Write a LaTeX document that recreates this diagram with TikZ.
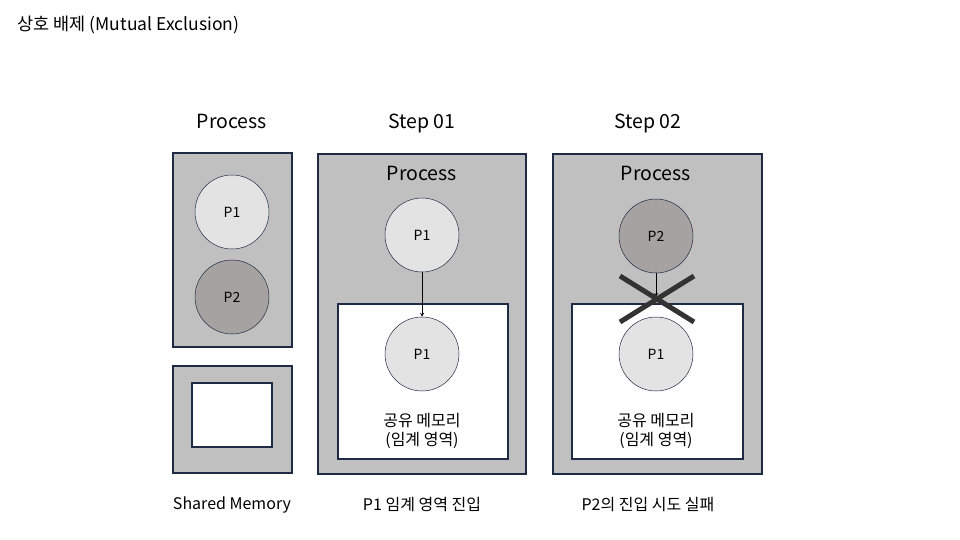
\documentclass[tikz,border=0pt]{standalone}
\usepackage{fontspec}
\setmainfont{Noto Sans CJK KR}
\usetikzlibrary{calc}
\definecolor{panelgray}{HTML}{C0C0C0}
\definecolor{edgeblue}{HTML}{1F2A44}
\definecolor{lightproc}{HTML}{E3E3E3}
\definecolor{darkproc}{HTML}{A6A2A1}
\definecolor{crossgray}{HTML}{333333}
\tikzset{
    panel/.style={draw=edgeblue, fill=panelgray, line width=1.2pt},
    memory/.style={draw=edgeblue, fill=white, line width=1.2pt},
    proc/.style={circle, draw=edgeblue, line width=0.5pt, minimum size=74pt, inner sep=0pt, font=\fontsize{14}{16}\selectfont},
    head/.style={font=\fontsize{19.5}{22}\selectfont},
    caption/.style={font=\fontsize{16}{19}\selectfont},
}
\begin{document}
\begin{tikzpicture}[x=1pt, y=-1pt]
    \useasboundingbox (0,0) rectangle (960,540);
    \node[anchor=west, font=\fontsize{17.5}{20}\selectfont] (title) at (14,25) {상호 배제 (Mutual Exclusion)};
    % headers
    \node[head, anchor=base] (hA) at (232,129) {Process};
    \node[head, anchor=base] (hB) at (422,129) {Step 01};
    \node[head, anchor=base] (hC) at (648,129) {Step 02};
    % left panel
    \draw[panel] (173,153) rectangle (292,347);
    \node[proc, fill=lightproc] (a1) at (232,212) {P1};
    \node[proc, fill=darkproc] (a2) at (232,297) {P2};
    \draw[panel] (173,366) rectangle (292,473);
    \draw[memory] (192,383) rectangle (272,447);
    % step 01
    \draw[panel] (318,154) rectangle (526,474);
    \node[head, anchor=base] (pB) at (422,181) {Process};
    \draw[memory] (338,304) rectangle (508,459);
    \node[proc, fill=lightproc] (b1) at (422,235) {P1};
    \node[proc, fill=lightproc] (b2) at (422,354) {P1};
    \node[caption, align=center] (mB) at (422,431) {공유 메모리\\(임계 영역)};
    \draw[->, >=stealth, line width=0.8pt] (b1) -- (b2);
    % step 02
    \draw[panel] (553,154) rectangle (762,474);
    \node[head, anchor=base] (pC) at (656,181) {Process};
    \draw[memory] (572,304) rectangle (743,459);
    \node[proc, fill=darkproc] (c1) at (656,236) {P2};
    \node[proc, fill=lightproc] (c2) at (656,354) {P1};
    \node[caption, align=center] (mC) at (656,431) {공유 메모리\\(임계 영역)};
    \coordinate (stop) at (656,297);
    \draw[->, >=stealth, line width=0.8pt] (c1) -- (stop);
    \draw[crossgray, line width=5pt] (620,276) -- (694,322);
    \draw[crossgray, line width=5pt] (694,276) -- (620,322);
    % captions
    \node[caption] (cA) at (232,505) {Shared Memory};
    \node[caption] (cB) at (422,505) {P1 임계 영역 진입};
    \node[caption] (cC) at (648,505) {P2의 진입 시도 실패};
\end{tikzpicture}
\end{document}
